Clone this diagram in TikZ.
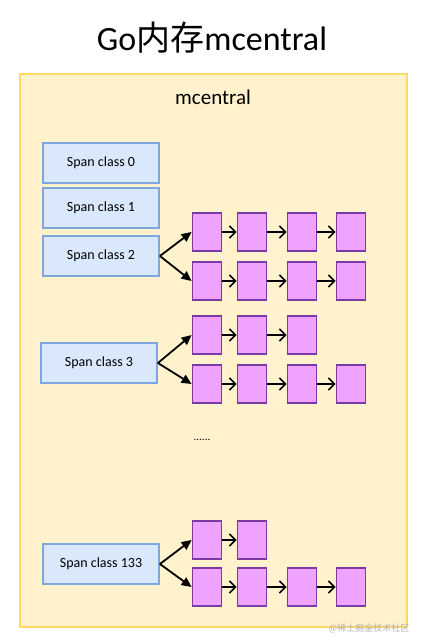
\documentclass[tikz,border=0pt]{standalone}
\usepackage{fontspec}
\setmainfont{Carlito}
\newfontfamily\cjk{Noto Sans CJK SC}
\usetikzlibrary{arrows.meta,positioning}
\definecolor{framefill}{HTML}{FFF2CC}
\definecolor{frameline}{HTML}{FFD966}
\definecolor{spanfill}{HTML}{DAE8FC}
\definecolor{spanline}{HTML}{7EA6E0}
\definecolor{blockfill}{HTML}{EFA2FF}
\definecolor{blockline}{HTML}{7B3BA6}

\begin{document}
\begin{tikzpicture}[x=1pt, y=-1pt,
        spanbox/.style={draw=spanline, fill=spanfill, line width=1.8pt,
        minimum width=116pt, minimum height=40pt, inner sep=0pt,
        font=\fontsize{14}{16}\selectfont},
        blockbox/.style={draw=blockline, fill=blockfill, line width=1.8pt,
        minimum width=29pt, minimum height=38pt, inner sep=0pt},
        fork/.style={-{Triangle[length=10pt,width=9pt]}, line width=1.8pt},
        link/.style={-{Straight Barb[length=6pt,width=12pt]}, line width=1.6pt}]
        \useasboundingbox (0,0) rectangle (424,644);

        \node (title) at (212,38) {\fontsize{34}{36}\selectfont Go{\cjk 内存}mcentral};
        \draw [frameline, fill=framefill, line width=2pt] (20,74) rectangle (407,627);
        \node (mc) at (213,97) {\fontsize{21}{24}\selectfont mcentral};

        \node [spanbox] (s0) at (101,163) {Span class 0};
        \node [spanbox] (s1) at (101,208) {Span class 1};
        \node [spanbox] (s2) at (101,256) {Span class 2};
        \node [spanbox] (s3) at (99,363) {Span class 3};
        \node [spanbox] (s133) at (101,564) {Span class 133};

        % span lists, one row each
        \foreach \row/\y/\xs in {a/232/{207,252,302,351}, b/281/{207,252,302,351},
                c/335/{207,252,302}, d/384/{207,252,302,351},
                e/540/{207,252}, f/587/{207,252,302,351}} {
            \foreach \x [count=\k, remember=\k as \p (initially 0)] in \xs {
                \node [blockbox] (\row\k) at (\x,\y) {};
                \ifnum\k>1 \draw [link] (\row\p) -- (\row\k); \fi
            }
        }

        \draw [fork] (s2.east) -- (a1.west);
        \draw [fork] (s2.east) -- (b1.west);
        \draw [fork] (s3.east) -- (c1.west);
        \draw [fork] (s3.east) -- (d1.west);
        \draw [fork] (s133.east) -- (e1.west);
        \draw [fork] (s133.east) -- (f1.west);

        \node (dots) at (202,440) {\fontsize{11}{12}\selectfont ......};
        \node [text=black!30] (mark) at (369,628) {\fontsize{9}{10}\cjk @稀土掘金技术社区};
    \end{tikzpicture}
\end{document}
